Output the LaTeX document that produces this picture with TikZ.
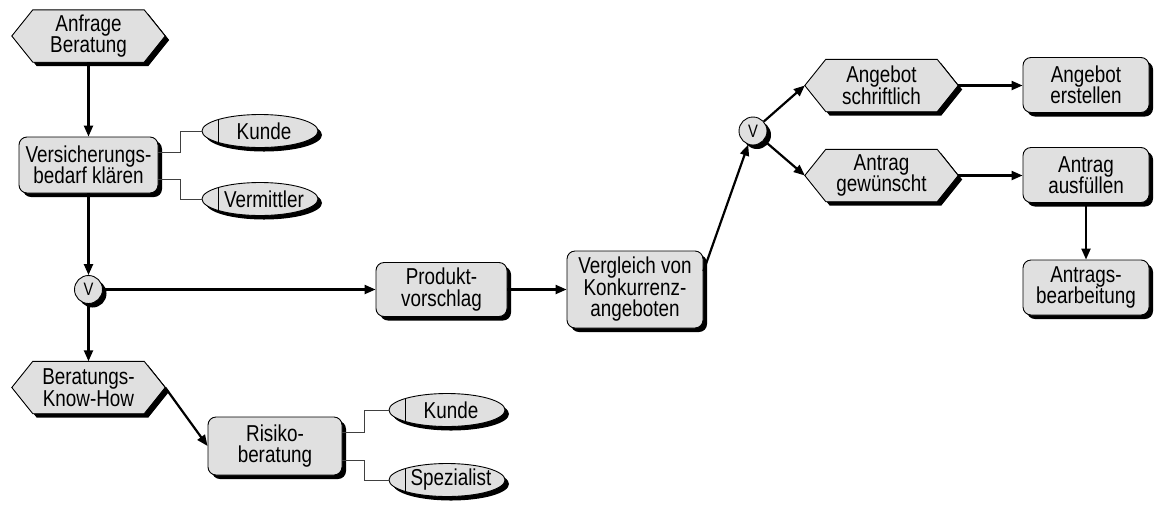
\documentclass[tikz,border=0pt]{standalone}
\usepackage{fontspec}
\setmainfont[FakeStretch=0.82]{Liberation Sans}
\usetikzlibrary{arrows.meta,shapes.geometric,shadows}
\definecolor{boxfill}{RGB}{224,224,224}

% event: hexagon drawn around an invisible frame node, text on top
\newcommand\evnode[3]{%
  \node[evframe] (#1) at (#2) {};
  \filldraw[shade,fill=boxfill,draw=black,line width=0.9pt]
    (#1.west) -- ([xshift=21pt]#1.north west) -- ([xshift=-21pt]#1.north east)
    -- (#1.east) -- ([xshift=-21pt]#1.south east) -- ([xshift=21pt]#1.south west) -- cycle;
  \node[align=center,inner sep=0pt] (#1-t) at (#1) {#3};
}
% organisational unit: ellipse with a vertical bar, label set right of centre
\newcommand\orgnode[3]{%
  \node[actor] (#1) at (#2) {};
  \node[inner sep=0pt] (#1-t) at ([xshift=4pt]#1.center) {#3};
}

\begin{document}
\begin{tikzpicture}[x=1pt,y=-1pt,
  font=\fontsize{23}{21.5}\selectfont,
  shade/.style={drop shadow={shadow xshift=4pt,shadow yshift=-4pt,opacity=1,fill=black}},
  func/.style={draw=black,line width=0.9pt,fill=boxfill,rounded corners=8pt,shade,
    align=center,inner sep=0pt},
  evframe/.style={inner sep=0pt,minimum width=153pt,minimum height=52pt},
  actor/.style={ellipse,draw=black,line width=0.9pt,fill=boxfill,shade,
    minimum width=116pt,minimum height=33pt,inner sep=0pt,
    path picture={\draw[line width=0.9pt]
      ([xshift=16pt]path picture bounding box.north west) --
      ([xshift=16pt]path picture bounding box.south west);}},
  conn/.style={draw=black,line width=0.9pt,fill=boxfill,circle,minimum size=28pt,
    inner sep=0pt,shade,font=\fontsize{18}{18}\selectfont},
  flow/.style={line width=2.2pt,-{Triangle[length=11pt,width=9pt]}},
  assoc/.style={line width=0.9pt,black!75},
]
\useasboundingbox (0,0) rectangle (1154,507);

% left column
\evnode{anf}{88.5,36}{Anfrage\\Beratung}
\node[func,minimum width=139pt,minimum height=56pt] (vers) at (88.5,165) {Versicherungs-\\bedarf klären};
\orgnode{k1}{260,131}{Kunde}
\orgnode{vm}{260,199}{Vermittler}
\node[conn] (v1) at (88.5,289.5) {V};
\evnode{ber}{88.5,387.5}{Beratungs-\\Know-How}
\node[func,minimum width=134pt,minimum height=58pt] (risk) at (275,446) {Risiko-\\beratung};
\orgnode{k2}{447,410}{Kunde}
\orgnode{sp}{447,480}{Spezialist}

% middle
\node[func,minimum width=131pt,minimum height=54pt] (prod) at (441.5,289.5) {Produkt-\\vorschlag};
\node[func,minimum width=136pt,minimum height=77pt] (verg) at (635,289.5) {Vergleich von\\Konkurrenz-\\angeboten};
\node[conn] (v2) at (753,131) {V};

% right
\evnode{as}{881.5,85.5}{Angebot\\schriftlich}
\evnode{ag}{881.5,175.5}{Antrag\\gewünscht}
\node[func,minimum width=126pt,minimum height=55pt] (ae) at (1086,85) {Angebot\\erstellen};
\node[func,minimum width=126pt,minimum height=55pt] (af) at (1086,175) {Antrag\\ausfüllen};
\node[func,minimum width=126pt,minimum height=55pt] (ab) at (1086,287.5) {Antrags-\\bearbeitung};

% control flow
\draw[flow] (anf) -- (vers);
\draw[flow] (vers) -- (v1);
\draw[flow] (v1) -- (ber);
\draw[flow] (v1) -- (prod);
\draw[flow] (ber.east) -- (risk.west);
\draw[flow] (prod) -- (verg);
\draw[flow] (verg.15) -- (v2);
\draw[flow] (v2) -- (as.west);
\draw[flow] (v2) -- (ag.west);
\draw[flow] (as.east) -- (as.east -| ae.west);
\draw[flow] (ag.east) -- (ag.east -| af.west);
\draw[flow] (af) -- (ab);

% assignments of organisational units
\draw[assoc] ([yshift=13pt]vers.east) -- ++(22,0) |- (k1.west);
\draw[assoc] ([yshift=-14pt]vers.east) -- ++(22,0) |- (vm.west);
\draw[assoc] ([yshift=14pt]risk.east) -- ++(22,0) |- (k2.west);
\draw[assoc] ([yshift=-14pt]risk.east) -- ++(22,0) |- (sp.west);
\end{tikzpicture}
\end{document}
